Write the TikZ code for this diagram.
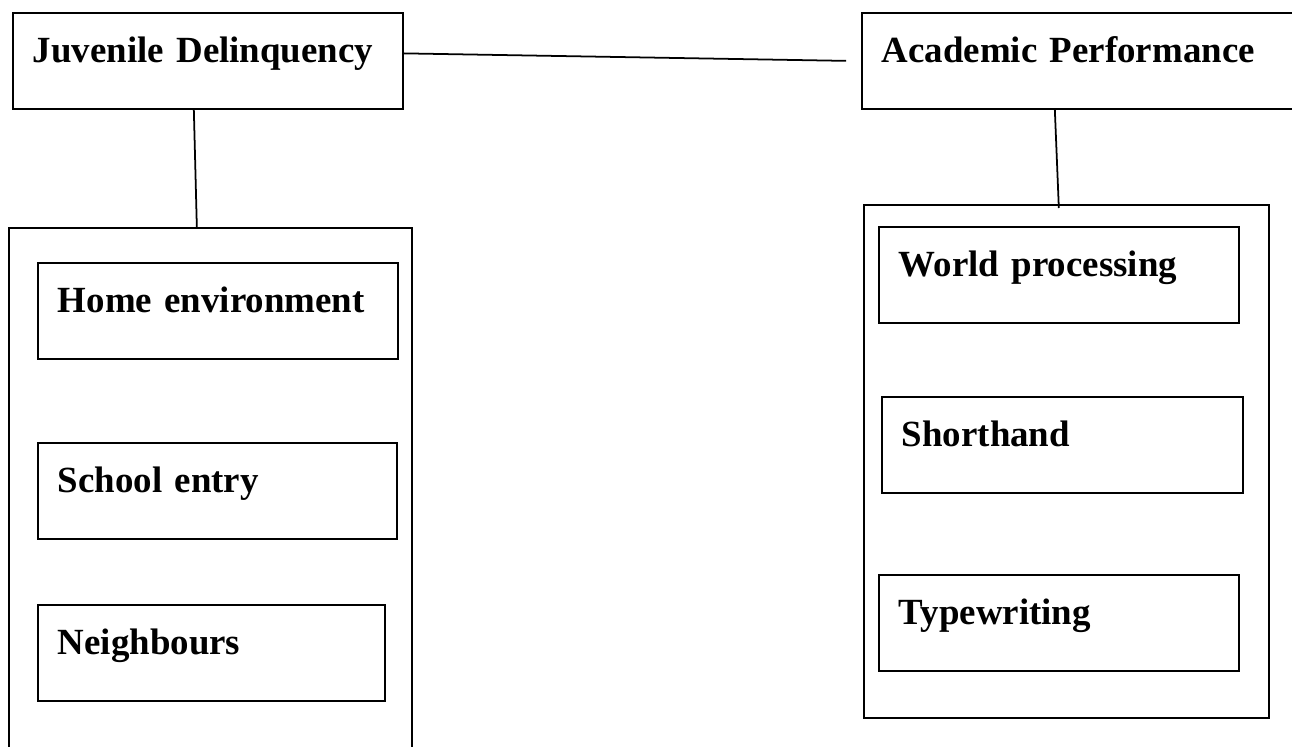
\documentclass[tikz,border=0pt]{standalone}
\usepackage{fontspec}
\setmainfont{Liberation Serif}
\usetikzlibrary{positioning}

\begin{document}
\begin{tikzpicture}[x=0.02cm,y=-0.02cm]
\tikzset{box/.style = {draw, line width=1pt, anchor=north west, inner xsep=0.4cm, inner ysep=0pt,
  text height=1.0cm, text depth=0.92cm, align=left, font=\fontsize{21}{25}\selectfont\bfseries}}
\tikzset{panel/.style = {draw, line width=1pt, anchor=north west, inner sep=0pt}}
\tikzset{link/.style = {line width=1pt}}
\clip (0,0) rectangle (1292,747);
% top boxes
\node[box, text width=7.0cm] (jd) at (12,12) {Juvenile Delinquency};
\node[box, text width=8.0cm] (ap) at (861,12) {Academic Performance};

% panels
\node[panel, minimum width=8.06cm, minimum height=10.66cm] (jdpanel) at (8,227) {};
\node[panel, minimum width=8.1cm, minimum height=10.26cm] (appanel) at (863,204) {};

% left items
\node[box, text width=6.4cm] (home) at (37,262) {Home environment};
\node[box, text width=6.38cm] (school) at (37,442) {School entry};
\node[box, text width=6.14cm] (neigh) at (37,604) {Neighbours};

% right items
\node[box, text width=6.4cm] (world) at (878,226) {World processing};
\node[box, text width=6.42cm] (short) at (881,396) {Shorthand};
\node[box, text width=6.4cm] (type) at (878,574) {Typewriting};

% lines
\draw[link] ([yshift=0.15cm]jd.east) -- ([xshift=-0.3cm]ap.west);
\draw[link] ([xshift=-0.28cm]jd.south) -- ([xshift=-0.27cm]jdpanel.north);
\draw[link] ([xshift=-0.54cm]ap.south) -- ([xshift=-0.15cm,yshift=-0.08cm]appanel.north);
\end{tikzpicture}
\end{document}
